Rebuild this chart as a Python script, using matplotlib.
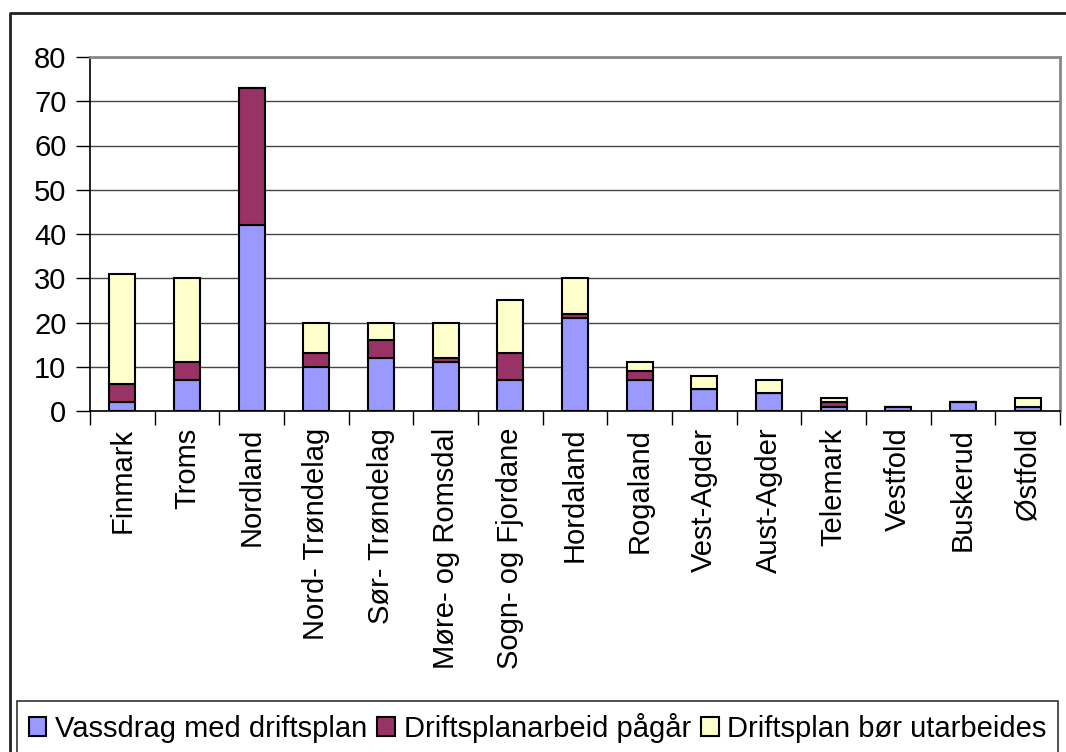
import numpy as np
import matplotlib.pyplot as plt
from matplotlib.lines import Line2D

plt.rcParams['font.family'] = ['Liberation Sans', 'DejaVu Sans']

# fylker og antall vassdrag
fylker = ["Finmark", "Troms", "Nordland", "Nord- Trøndelag", "Sør- Trøndelag",
          "Møre- og Romsdal", "Sogn- og Fjordane", "Hordaland", "Rogaland",
          "Vest-Agder", "Aust-Agder", "Telemark", "Vestfold", "Buskerud", "Østfold"]
med_plan = [2, 7, 42, 10, 12, 11, 7, 21, 7, 5, 4, 1, 1, 2, 1]
pagar = [4, 4, 31, 3, 4, 1, 6, 1, 2, 0, 0, 1, 0, 0, 0]
bor_utarb = [25, 19, 0, 7, 4, 8, 12, 8, 2, 3, 3, 1, 0, 0, 2]
serier = ["Vassdrag med driftsplan", "Driftsplanarbeid pågår", "Driftsplan bør utarbeides"]
farger = ["#9999FF", "#993366", "#FFFFCC"]
yticks = [0, 10, 20, 30, 40, 50, 60, 70, 80]

W, H = 1066, 752
fig = plt.figure(figsize=(W / 100, H / 100), dpi=100)
ax = fig.add_axes([90 / W, 1 - 411 / H, (1060 - 90) / W, (411 - 57) / H])

x = np.arange(len(fylker))
bunn = np.zeros(len(fylker))
for verdier, navn, farge in zip([med_plan, pagar, bor_utarb], serier, farger):
    v = np.array(verdier, dtype=float)
    ax.bar(x, v, width=0.4, bottom=bunn, color=farge, edgecolor="black",
           linewidth=1.5, label=navn, zorder=3)
    bunn += v

ax.set_xlim(-0.5, len(fylker) - 0.5)
ax.set_ylim(0, 80)
ax.set_yticks(yticks)
ax.yaxis.grid(True, color="#444444", linewidth=1, zorder=0)
ax.tick_params(axis="y", labelsize=21, length=10, width=1, pad=7, direction="out")

# kategorinavn i midten, streker mellom kategoriene
ax.set_xticks(x)
ax.set_xticklabels(fylker, rotation=90, fontsize=21)
ax.tick_params(axis="x", which="major", length=0, pad=12)
ax.set_xticks(np.arange(len(fylker) + 1) - 0.5, minor=True)
ax.tick_params(axis="x", which="minor", length=10, width=1, direction="out")

for s in ["top", "right"]:
    ax.spines[s].set_color("#888888")
    ax.spines[s].set_linewidth(2)
ax.spines["left"].set_linewidth(1.2)
ax.spines["bottom"].set_linewidth(1.2)

# ytre ramme (venstre og topp)
fig.add_artist(Line2D([10 / W, 10 / W, 1.0], [0, 1 - 13 / H, 1 - 13 / H],
                      transform=fig.transFigure, color="#222222", linewidth=2))

leg = fig.legend(loc="upper left", bbox_to_anchor=(17 / W, 1 - 701 / H), ncol=3,
                 fontsize=21, frameon=True, fancybox=False, edgecolor="black",
                 handlelength=0.6, handleheight=0.6, handletextpad=0.3,
                 columnspacing=0.35, borderpad=0.4, borderaxespad=0)
leg.get_frame().set_linewidth(1.2)

fig.savefig("out.png", dpi=100)
